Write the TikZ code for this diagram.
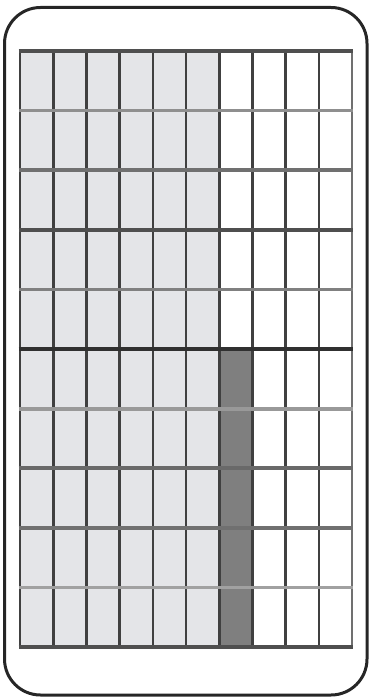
\documentclass[tikz,border=0pt]{standalone}
\usetikzlibrary{positioning}
\definecolor{cellgray}{HTML}{E4E5E8}
\definecolor{cellmark}{HTML}{7F7F7F}
\definecolor{gridline}{HTML}{404040}
\tikzset{
  vline/.style={gridline,line width=2.6pt},
  hline/.style={line width=3.8pt}
}
\begin{document}
\begin{tikzpicture}[x=1pt,y=-1pt]
  \useasboundingbox (0,0) rectangle (371,700);

  % Outer frame
  \draw[black!85,line width=3pt,rounded corners=36pt] (4.5,7.5) rectangle (367,695);

  % Shaded cells
  \fill[cellgray] (20,51) rectangle (219.2,647);
  \fill[cellmark] (219.2,349) rectangle (252.4,647);

  % Column lines
  \foreach \i in {0,...,9}
    \draw[vline] ({20+33.2*\i},51) -- ({20+33.2*\i},647);
  \draw[vline,black!56] (352,51) -- (352,647);

  % Row lines
  \foreach \j/\k in {0/69,1/44,2/56,3/69,4/50,5/81,6/40,7/59,8/56,9/37,10/69}
    \draw[hline,black!\k] (18.7,{51+59.6*\j}) -- (353.3,{51+59.6*\j});
\end{tikzpicture}
\end{document}
